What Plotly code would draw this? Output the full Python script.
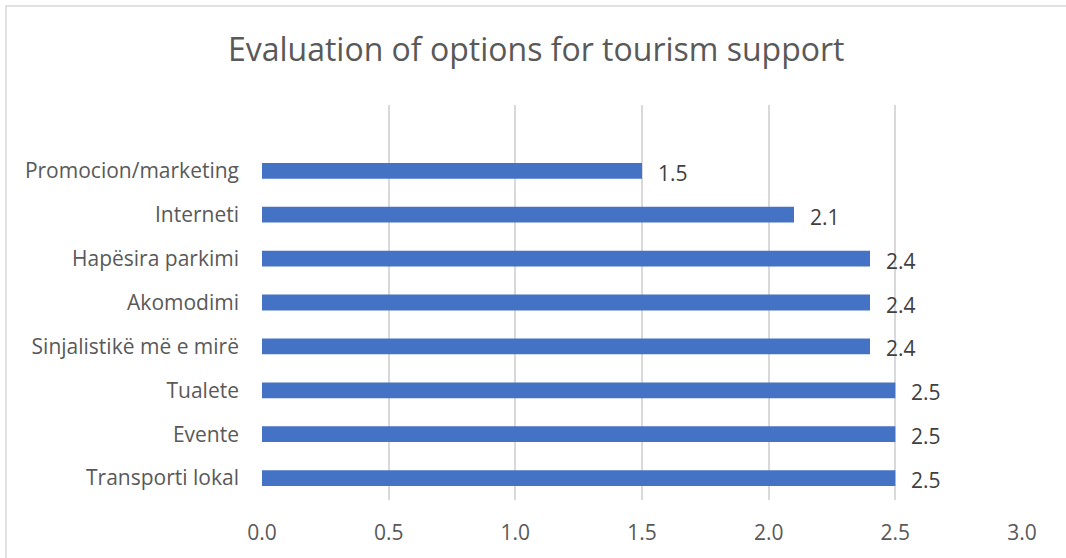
import plotly.graph_objects as go

# Options, listed bottom to top as they appear on the axis
options = [
    "Transporti lokal",
    "Evente",
    "Tualete",
    "Sinjalistikë më e mirë",
    "Akomodimi",
    "Hapësira parkimi",
    "Interneti",
    "Promocion/marketing",
]
scores = [2.5, 2.5, 2.5, 2.4, 2.4, 2.4, 2.1, 1.5]
x_ticks = [0.0, 0.5, 1.0, 1.5, 2.0, 2.5, 3.0]

FONT = "Open Sans"
BAR = "#4472C4"
GRID = "#d9d9d9"

fig = go.Figure()
fig.add_trace(go.Bar(
    y=options,
    x=scores,
    orientation="h",
    width=0.36,
    marker=dict(color=BAR, line=dict(width=0)),
    hoverinfo="x+y",
))

# value labels just right of each bar end
for opt, val in zip(options, scores):
    fig.add_annotation(
        x=val, y=opt, xref="x", yref="y",
        text=f"{val:.1f}", showarrow=False,
        xanchor="left", yanchor="middle", xshift=14, yshift=-2,
        font=dict(family=FONT, size=21, color="#404040"),
    )

fig.update_layout(
    width=1066, height=558,
    paper_bgcolor="white", plot_bgcolor="white",
    margin=dict(l=262, r=44, t=105, b=58),
    showlegend=False,
    title=dict(
        text="Evaluation of options for tourism support",
        x=0.503, xanchor="center", y=0.91, yanchor="middle",
        font=dict(family=FONT, size=32, color="#595959"),
    ),
    xaxis=dict(
        range=[0, 3.0],
        tickvals=x_ticks,
        ticktext=[f"{v:.1f}" for v in x_ticks],
        showgrid=True, gridcolor=GRID, gridwidth=1.5,
        zeroline=False, showline=False, ticks="",
        ticklabelstandoff=18,
        tickfont=dict(family=FONT, size=21, color="#595959"),
    ),
    yaxis=dict(
        type="category",
        categoryorder="array", categoryarray=options,
        range=[-0.5, 8.5],
        showgrid=False, zeroline=False, showline=False, ticks="",
        ticklabelstandoff=22,
        tickfont=dict(family=FONT, size=21, color="#595959"),
    ),
    shapes=[
        # light frame around the chart area, open past the right and bottom edges
        dict(type="rect", xref="paper", yref="paper",
             x0=-256/760, x1=1 + 80/760,
             y0=-100/395, y1=1 + 99/395,
             line=dict(color=GRID, width=1.5), fillcolor="rgba(0,0,0,0)",
             layer="below"),
    ],
)

fig.write_html("out.html")
